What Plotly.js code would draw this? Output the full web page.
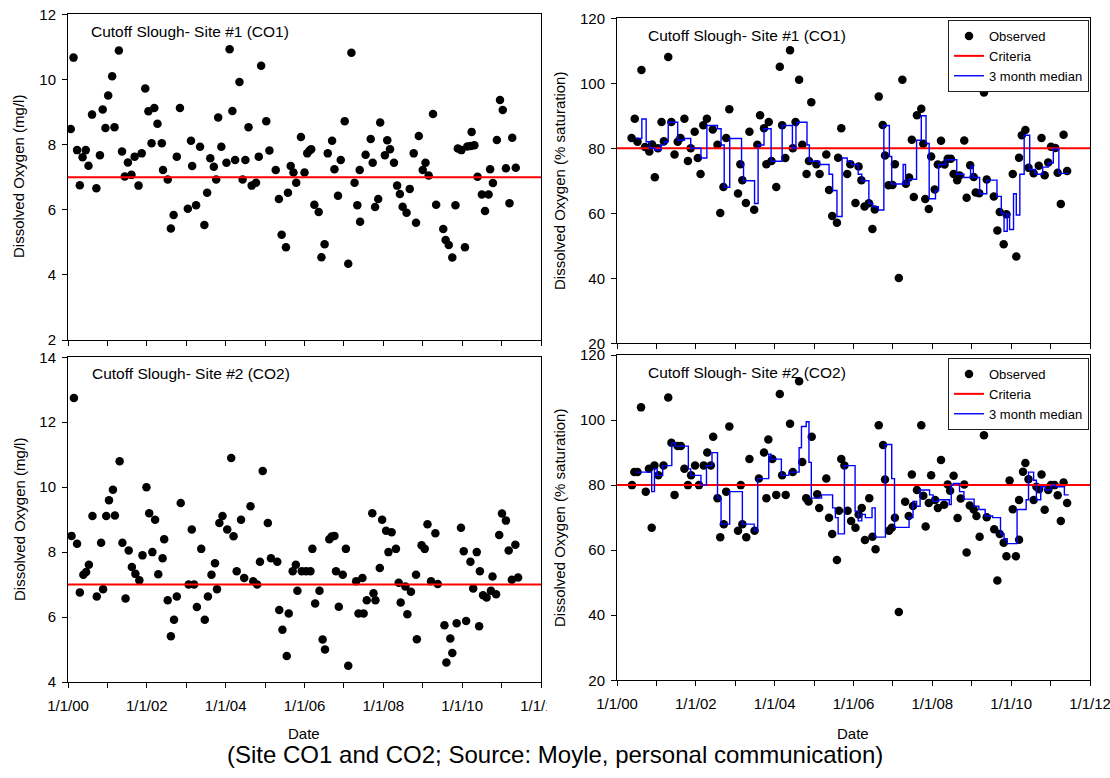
<!DOCTYPE html>
<html><head><meta charset="utf-8">
<script src="https://cdn.plot.ly/plotly-3.0.1.min.js"></script>
<style>html,body{margin:0;padding:0;background:#fff}#chart{width:1110px;height:778px}</style>
</head><body><div id="chart"></div>
<script>
// x values are years since 1/1/2000
const tickYears = [0,1,2,3,4,5,6,7,8,9,10,11,12];
const tickLabels = ['1/1/00','','1/1/02','','1/1/04','','1/1/06','','1/1/08','','1/1/10','','1/1/12'];
const criteriaMg = 7;
const criteriaSat = 80;

// Site #1 (CO1), mg/l
const co1MgYear = [0.07,0.14,0.23,0.30,0.37,0.45,0.52,0.61,0.72,0.81,0.88,0.95,1.02,1.12,1.18,1.29,1.37,1.44,1.52,1.61,1.69,1.79,1.87,1.96,2.04,2.12,2.19,2.27,2.38,2.41,2.53,2.61,2.68,2.76,2.84,3.04,3.12,3.15,3.25,3.35,3.46,3.53,3.61,3.70,3.76,3.81,3.89,4.02,4.10,4.17,4.24,4.35,4.43,4.50,4.58,4.66,4.77,4.84,4.90,5.03,5.11,5.27,5.35,5.42,5.53,5.58,5.65,5.72,5.79,5.91,6.00,6.07,6.13,6.17,6.25,6.36,6.43,6.51,6.59,6.70,6.76,6.85,6.92,7.02,7.11,7.19,7.27,7.34,7.40,7.41,7.55,7.68,7.73,7.79,7.87,7.92,8.04,8.10,8.17,8.27,8.35,8.42,8.49,8.59,8.67,8.77,8.83,8.90,9.00,9.07,9.15,9.26,9.34,9.52,9.58,9.66,9.75,9.83,9.89,9.98,10.07,10.13,10.22,10.24,10.31,10.39,10.50,10.58,10.67,10.71,10.78,10.88,10.96,11.03,11.11,11.20,11.27,11.36];
const co1MgValue = [8.48,10.67,7.83,6.75,7.61,7.83,7.35,8.92,6.66,7.67,9.08,8.51,9.51,10.10,8.53,10.89,7.79,7.02,7.45,7.07,7.63,6.74,7.73,9.72,9.02,8.04,9.12,8.64,8.04,7.22,6.93,5.42,5.84,7.63,9.12,6.03,8.12,7.34,6.14,7.93,5.53,6.52,7.58,7.32,6.93,8.83,7.93,7.44,10.93,9.03,7.53,9.92,6.93,7.53,8.53,6.74,6.83,7.63,10.42,8.72,7.82,7.22,6.33,5.23,4.85,6.52,7.34,7.14,6.83,8.23,7.14,7.73,7.82,7.86,6.15,5.93,4.54,4.94,7.73,8.12,7.24,6.43,7.53,8.72,4.34,10.82,6.83,6.14,7.22,5.63,7.69,8.17,7.44,6.08,6.33,8.68,7.67,8.13,7.86,7.44,6.74,6.48,6.09,5.91,6.64,7.73,5.60,8.26,7.22,7.44,7.05,8.94,6.15,5.41,5.07,4.92,4.53,6.14,7.88,7.83,4.85,7.94,7.96,8.39,7.98,7.01,6.47,5.96,6.47,7.24,6.82,8.14,9.37,9.06,7.27,6.20,8.21,7.29];

// Site #2 (CO2), mg/l
const co2MgYear = [0.09,0.15,0.23,0.30,0.39,0.46,0.53,0.62,0.73,0.84,0.89,0.97,1.04,1.14,1.19,1.31,1.38,1.46,1.54,1.62,1.71,1.81,1.89,1.99,2.06,2.14,2.21,2.29,2.40,2.44,2.53,2.61,2.69,2.76,2.86,3.06,3.14,3.20,3.27,3.38,3.47,3.55,3.64,3.73,3.78,3.84,3.92,4.04,4.14,4.20,4.28,4.39,4.47,4.63,4.70,4.80,4.87,4.94,5.07,5.15,5.31,5.36,5.44,5.55,5.60,5.70,5.78,5.82,5.93,6.04,6.15,6.20,6.27,6.38,6.46,6.52,6.63,6.69,6.76,6.80,6.87,6.97,7.05,7.11,7.31,7.37,7.47,7.50,7.58,7.72,7.75,7.80,7.91,7.97,8.07,8.13,8.21,8.32,8.39,8.44,8.56,8.61,8.70,8.83,8.85,8.97,9.05,9.12,9.21,9.32,9.38,9.55,9.60,9.70,9.75,9.86,9.97,10.04,10.10,10.21,10.28,10.37,10.43,10.45,10.53,10.62,10.73,10.77,10.86,10.94,11.01,11.11,11.18,11.26,11.35,11.42];
const co2MgValue = [8.50,12.75,8.26,6.76,7.30,7.39,7.61,9.11,6.63,8.29,6.86,9.11,9.60,9.92,9.13,10.80,8.29,6.57,8.05,7.54,7.33,7.13,7.90,10.00,9.20,8.00,9.00,7.32,7.81,8.40,6.52,5.41,5.92,6.63,9.51,7.00,8.70,7.00,6.31,8.10,5.92,6.63,7.30,7.66,6.86,8.90,9.11,8.70,10.90,8.49,7.41,9.00,7.20,9.41,7.10,7.00,7.70,10.50,8.90,7.81,7.70,6.22,5.61,4.80,6.11,7.41,7.61,6.81,7.41,7.41,7.41,8.10,6.42,6.81,5.31,5.00,8.40,8.48,8.50,7.41,6.32,7.30,8.10,4.50,7.10,6.11,7.20,6.11,6.52,9.20,6.73,6.52,7.51,9.00,8.66,8.00,8.61,8.10,7.06,6.45,6.94,6.09,6.78,7.30,5.32,8.21,8.10,8.86,7.10,8.58,7.02,5.75,4.60,5.34,4.89,5.81,8.75,8.03,5.88,7.70,6.88,8.00,5.72,7.41,6.67,6.60,6.81,7.25,6.70,8.53,9.19,8.97,8.05,7.15,8.23,7.22];

// Site #1 (CO1), % saturation
const co1SatYear = [0.37,0.45,0.52,0.62,0.71,0.82,0.89,0.96,1.04,1.13,1.19,1.30,1.38,1.46,1.54,1.61,1.71,1.80,1.87,1.97,2.05,2.12,2.19,2.28,2.43,2.55,2.62,2.70,2.77,2.85,3.07,3.13,3.18,3.27,3.36,3.48,3.56,3.63,3.73,3.79,3.85,3.92,4.04,4.13,4.19,4.27,4.39,4.46,4.53,4.62,4.70,4.81,4.87,4.93,5.06,5.14,5.31,5.38,5.46,5.58,5.61,5.69,5.84,5.92,6.05,6.13,6.20,6.28,6.39,6.48,6.54,6.64,6.74,6.80,6.89,6.99,7.05,7.15,7.24,7.33,7.41,7.48,7.53,7.61,7.72,7.77,7.82,7.91,7.97,8.06,8.14,8.22,8.31,8.39,8.47,8.54,8.63,8.69,8.81,8.87,8.96,9.05,9.10,9.19,9.31,9.38,9.56,9.65,9.71,9.81,9.88,10.04,10.13,10.20,10.27,10.36,10.44,10.57,10.70,10.77,10.85,10.94,11.01,11.12,11.18,11.26,11.33,11.42];
const co1SatValue = [83.2,89.1,82.0,104.1,80.4,79.0,81.2,71.1,80.0,88.1,82.2,108.1,88.1,78.1,82.0,83.2,89.1,76.1,80.0,85.1,77.0,72.1,87.1,89.1,85.8,81.1,60.1,68.1,83.2,92.0,66.1,75.1,70.2,63.2,85.1,61.1,81.1,90.2,86.2,75.1,88.1,76.1,68.1,105.1,87.1,77.0,110.2,80.0,88.1,101.1,81.1,72.1,76.1,94.2,75.1,72.1,78.1,67.2,59.2,57.1,77.1,86.2,72.1,75.1,63.2,74.4,70.2,62.1,63.1,55.2,61.2,95.9,87.2,77.8,68.6,68.7,75.1,40.1,101.1,69.1,71.0,82.6,65.0,90.2,92.2,81.4,64.4,61.3,77.5,67.3,75.0,82.3,75.0,76.8,76.8,72.1,70.2,71.6,82.4,64.8,74.8,71.2,66.4,66.2,97.2,70.4,65.2,54.7,60.4,50.5,59.7,72.1,46.7,77.1,84.0,85.6,74.0,72.3,74.6,83.2,71.7,75.6,80.5,80.1,72.5,62.9,84.2,73.0];
const co1MedianYear = [0.48,0.63,0.74,0.83,0.96,1.11,1.20,1.30,1.54,1.71,1.87,2.13,2.28,2.55,2.64,2.72,2.86,3.16,3.21,3.49,3.58,3.73,3.91,4.19,4.45,4.54,4.57,4.82,4.88,5.14,5.38,5.47,5.58,5.71,5.84,5.95,6.12,6.21,6.39,6.49,6.63,6.77,6.91,6.97,7.26,7.32,7.41,7.60,7.72,7.84,7.92,8.08,8.16,8.34,8.62,8.80,8.97,9.04,9.20,9.38,9.64,9.75,9.82,9.90,9.96,10.06,10.13,10.22,10.33,10.47,10.61,10.80,10.94,11.07,11.21,11.45];
const co1MedianValue = [83,89,82,80,79.5,81,82,88,82.5,83,80,77,87,86,81,68,83,75,70,63,81,86,76,87,80,87,88,81,76,75,72,67,59,77,76,75,72,70,63,62,61,87,77.5,69,75,69,70.5,82.5,90,81.5,64.5,67,75,76.5,72,71,74.5,71,66,70.2,65.2,60,54.5,59.8,55,66,59.5,72,84,73.5,72,74.2,75.5,79.8,72.3,72.3];

// Site #2 (CO2), % saturation
const co2SatYear = [0.38,0.44,0.52,0.61,0.73,0.81,0.88,0.95,1.05,1.18,1.30,1.38,1.46,1.54,1.62,1.71,1.80,1.88,1.98,2.08,2.20,2.29,2.38,2.44,2.55,2.62,2.71,2.77,2.85,3.07,3.14,3.18,3.28,3.36,3.49,3.60,3.73,3.79,3.84,3.94,4.04,4.13,4.19,4.28,4.39,4.46,4.62,4.70,4.80,4.86,4.94,5.08,5.13,5.31,5.38,5.46,5.58,5.63,5.69,5.77,5.85,5.94,6.05,6.13,6.21,6.29,6.40,6.48,6.56,6.64,6.75,6.80,6.90,6.97,7.05,7.15,7.31,7.40,7.48,7.51,7.61,7.72,7.77,7.83,7.91,7.97,8.07,8.14,8.22,8.30,8.39,8.45,8.54,8.64,8.72,8.81,8.87,8.95,9.05,9.12,9.20,9.31,9.38,9.57,9.65,9.71,9.81,9.88,9.96,10.04,10.12,10.20,10.20,10.30,10.36,10.44,10.57,10.64,10.71,10.77,10.85,10.94,11.01,11.10,11.18,11.26,11.33,11.42];
const co2SatValue = [80.0,84.0,84.0,103.9,78.0,85.0,66.9,86.0,83.0,86.0,106.9,93.0,77.0,92.0,92.0,85.0,80.0,83.0,86.0,80.0,86.0,90.0,86.0,94.9,76.0,64.0,68.0,78.0,98.0,66.0,80.0,68.0,64.0,88.0,66.0,82.0,90.0,76.0,94.0,88.0,77.0,108.0,83.0,77.0,98.9,84.0,111.9,87.1,76.0,75.0,94.9,77.2,73.0,82.0,70.0,65.0,57.0,72.1,88.0,86.0,72.1,69.0,66.9,71.0,73.0,63.1,76.0,64.1,60.3,98.4,92.3,81.7,66.0,66.9,70.0,41.0,74.9,70.5,83.3,73.6,78.5,98.4,76.7,67.3,74.5,83.0,75.4,73.0,87.7,74.0,80.2,78.3,82.9,69.9,75.9,80.2,59.3,73.7,72.5,70.5,64.1,95.3,70.1,66.4,50.7,65.0,62.3,58.1,81.4,72.6,58.1,75.4,63.2,84.1,86.8,81.8,75.4,79.5,78.7,83.3,72.4,78.5,80.0,80.0,76.9,69.0,80.8,74.5];
const co2MedianYear = [0.48,0.88,0.95,1.02,1.16,1.39,1.48,1.81,1.87,2.13,2.27,2.41,2.55,2.64,2.86,3.18,3.48,3.57,3.85,3.91,4.17,4.36,4.62,4.68,4.80,4.87,4.93,5.19,5.47,5.54,5.61,5.77,6.04,6.12,6.21,6.30,6.47,6.55,6.81,6.97,7.04,7.41,7.51,7.60,7.69,7.93,8.02,8.16,8.43,8.48,8.53,8.69,8.80,9.06,9.18,9.34,9.53,9.73,9.82,9.90,10.15,10.38,10.44,10.57,10.64,10.75,10.87,11.01,11.12,11.35,11.46];
const co2MedianValue = [84,78,85,83,86,93,92,85,83,80,86,90,76,68,78,68,66,82,89.5,88,83,84,91.5,98,99.5,87,76,77,73,70,65,86,72,69,71,70,73,64,92.5,82,67,70,75,73.5,78.5,77,75,75.5,74,80,80.5,78,75.7,73.5,72.5,70.5,70,65,63.5,62,72.5,75.5,84,81.5,75.5,79.5,78.5,80,79.5,77,77];

const W = 1110, H = 778;
const px = v => v / W;
const py = v => 1 - v / H;
const FONT = '"Liberation Sans", Arial, sans-serif';
const BLK = '#000000';

function xAxis(x0, x1, anchor, showLabels) {
  return {
    domain: [px(x0), px(x1)], anchor: anchor, range: [0, 12],
    tickmode: 'array', tickvals: tickYears, ticktext: tickLabels,
    showticklabels: showLabels, ticks: 'outside', ticklen: 5, tickwidth: 1, tickcolor: BLK,
    showline: true, mirror: true, linecolor: BLK, linewidth: 1,
    showgrid: false, zeroline: false, ticklabelstandoff: 5, ticklabeloverflow: 'allow',
    tickfont: {family: FONT, size: 15, color: BLK}, fixedrange: true
  };
}
function yAxis(top, bottom, anchor, range, dtick) {
  return {
    domain: [py(bottom), py(top)], anchor: anchor, range: range,
    tick0: range[0], dtick: dtick, ticks: 'outside', ticklen: 5, tickwidth: 1, tickcolor: BLK,
    showline: true, mirror: true, linecolor: BLK, linewidth: 1,
    showgrid: false, zeroline: false, ticklabelstandoff: 3, ticklabeloverflow: 'allow',
    tickfont: {family: FONT, size: 15, color: BLK}, fixedrange: true
  };
}

const xEnds = [tickYears[0], tickYears[tickYears.length - 1]];
function obs(x, y, xa, ya, show, leg) {
  return {type: 'scatter', mode: 'markers', x: x, y: y, xaxis: xa, yaxis: ya,
    name: 'Observed', showlegend: show, legend: leg,
    marker: {color: BLK, size: 8.5, line: {width: 0}}};
}
function crit(val, xa, ya, show, leg) {
  return {type: 'scatter', mode: 'lines', x: xEnds, y: [val, val], xaxis: xa, yaxis: ya,
    name: 'Criteria', showlegend: show, legend: leg,
    line: {color: '#ff0000', width: 2}};
}
function med(x, y, xa, ya, leg) {
  return {type: 'scatter', mode: 'lines', x: x, y: y, xaxis: xa, yaxis: ya,
    name: '3 month median', showlegend: true, legend: leg,
    line: {color: '#0000ff', width: 1.4, shape: 'hv'}};
}

const data = [
  obs(co1MgYear, co1MgValue, 'x', 'y', false, 'legend'),
  crit(criteriaMg, 'x', 'y', false, 'legend'),
  obs(co1SatYear, co1SatValue, 'x2', 'y2', true, 'legend'),
  crit(criteriaSat, 'x2', 'y2', true, 'legend'),
  med(co1MedianYear, co1MedianValue, 'x2', 'y2', 'legend'),
  obs(co2MgYear, co2MgValue, 'x3', 'y3', false, 'legend2'),
  crit(criteriaMg, 'x3', 'y3', false, 'legend2'),
  obs(co2SatYear, co2SatValue, 'x4', 'y4', true, 'legend2'),
  crit(criteriaSat, 'x4', 'y4', true, 'legend2'),
  med(co2MedianYear, co2MedianValue, 'x4', 'y4', 'legend2')
];

function ann(text, x, y, size, xanchor, angle) {
  return {text: text, x: px(x), y: py(y), xref: 'paper', yref: 'paper',
    xanchor: xanchor || 'center', yanchor: 'middle', showarrow: false,
    textangle: angle || 0, font: {family: FONT, size: size, color: BLK}};
}

const legendBase = {
  xanchor: 'right', yanchor: 'top', bgcolor: '#ffffff', bordercolor: '#222222', borderwidth: 1,
  font: {family: FONT, size: 13, color: BLK}, tracegroupgap: 0, itemclick: false, itemdoubleclick: false
};

const layout = {
  width: W, height: H, autosize: false,
  margin: {l: 0, r: 0, t: 0, b: 0, pad: 0},
  paper_bgcolor: '#ffffff', plot_bgcolor: '#ffffff',
  font: {family: FONT, color: BLK},
  xaxis: xAxis(68, 541, 'y', false),
  yaxis: yAxis(14.3, 340, 'x', [2, 12], 2),
  xaxis2: xAxis(617, 1090, 'y2', false),
  yaxis2: yAxis(18.3, 343.3, 'x2', [20, 120], 20),
  xaxis3: xAxis(68, 541, 'y3', true),
  yaxis3: yAxis(357.3, 682, 'x3', [4, 14], 2),
  xaxis4: xAxis(617, 1090, 'y4', true),
  yaxis4: yAxis(355, 680.3, 'x4', [20, 120], 20),
  legend: Object.assign({x: px(1089), y: py(20)}, legendBase),
  legend2: Object.assign({x: px(1089), y: py(358)}, legendBase),
  annotations: [
    ann('Cutoff Slough- Site #1 (CO1)', 89, 32, 15.5, 'left'),
    ann('Cutoff Slough- Site #1 (CO1)', 646, 35, 15.5, 'left'),
    ann('Cutoff Slough- Site #2 (CO2)', 90, 373, 15.5, 'left'),
    ann('Cutoff Slough- Site #2 (CO2)', 646, 372, 15.5, 'left'),
    ann('Dissolved Oxygen (mg/l)', 19, 177, 15, 'center', -90),
    ann('Dissolved Oxygen (mg/l)', 19, 520, 15, 'center', -90),
    ann('Dissolved Oxygen (% saturation)', 559, 181, 15, 'center', -90),
    ann('Dissolved Oxygen (% saturation)', 559, 518, 15, 'center', -90),
    ann('Date', 304, 733, 15),
    ann('Date', 853, 733, 15),
    ann('(Site CO1 and CO2; Source: Moyle, personal communication)', 555, 754, 24)
  ],
  shapes: [
    {type: 'rect', xref: 'paper', yref: 'paper', x0: px(547), x1: px(580), y0: py(716), y1: py(690),
     fillcolor: '#ffffff', line: {width: 0}, layer: 'above'}
  ]
};

Plotly.newPlot('chart', data, layout, {staticPlot: true, displayModeBar: false});
</script>
</body></html>
